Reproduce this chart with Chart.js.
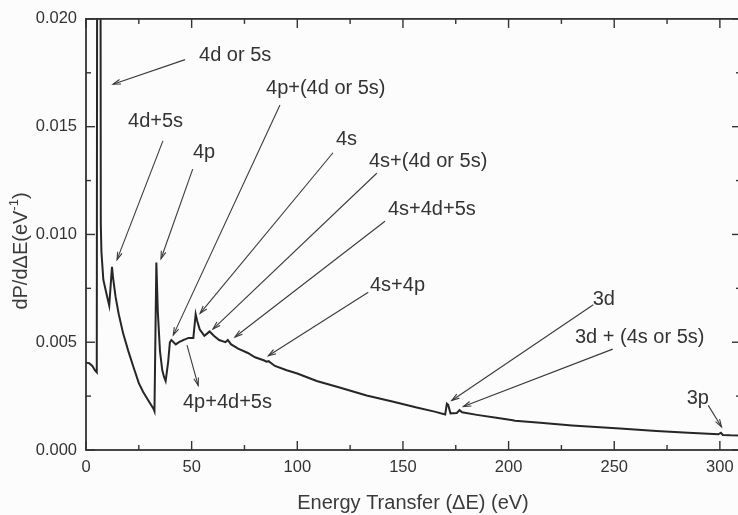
<!DOCTYPE html>
<html>
<head>
<meta charset="utf-8">
<script src="https://cdn.jsdelivr.net/npm/chart.js@4.4.1/dist/chart.umd.min.js"></script>
<style>
html,body{margin:0;padding:0;background:#fcfcfc;overflow:hidden;width:738px;height:515px}
#wrap{position:relative;width:746px;height:515px}
canvas{display:block}
</style>
</head>
<body>
<div id="wrap"><canvas id="c" width="746" height="515"></canvas></div>
<script>
// Energy transfer (eV)
const energy = [0, 1.5, 3, 4.2, 5.1, 5.5, 6.6, 7.0, 7.3, 8.2, 9.8, 11.0, 12.3, 12.8, 14.0, 15.5, 17.6, 20.0, 22.3, 25.0,
  27.0, 29.5, 32.0, 32.4, 33.3, 34.0, 35.0, 36.1, 36.9, 37.7, 38.9, 39.7, 40.4, 42.5, 44.0, 46.0, 48.5, 50.8, 51.9, 52.6,
  53.8, 56.0, 57.3, 58.5, 60.5, 63.0, 66.0, 67.1, 68.7, 72.0, 76.6, 80.0, 84.4, 85.4, 86.4, 89.4, 95.0, 100.0, 109.2, 120.0,
  132.8, 145.0, 156.5, 165.0, 170.0, 170.8, 171.4, 172.5, 175.5, 176.8, 178.0, 185.0, 195.0, 202.0, 203.0, 215.0, 230.0, 252.7, 270.0, 285.0,
  299.3, 300.5, 301.4, 305.0, 310.0];
// dP/dΔE (1/eV)
const dPdE = [0.00405, 0.00403, 0.0039, 0.0037, 0.0036, 0.05, 0.05, 0.0105, 0.0092, 0.0079, 0.0072, 0.0067, 0.0085, 0.0080, 0.0071, 0.0063, 0.0054, 0.0046, 0.0039, 0.0031,
  0.0027, 0.0023, 0.0019, 0.0018, 0.0087, 0.0064, 0.0046, 0.0037, 0.0034, 0.0032, 0.0041, 0.0050, 0.0051, 0.0049, 0.0050, 0.0051, 0.0052, 0.0052, 0.0063, 0.0060,
  0.0056, 0.0053, 0.0054, 0.0055, 0.0053, 0.0051, 0.0050, 0.0051, 0.0049, 0.0047, 0.0045, 0.0043, 0.00415, 0.0041, 0.00412, 0.0039, 0.0037, 0.00355, 0.0032, 0.0029,
  0.00253, 0.00225, 0.00197, 0.00178, 0.00165, 0.00215, 0.0021, 0.0017, 0.00172, 0.00185, 0.00175, 0.00163, 0.00148, 0.00138, 0.00136, 0.00126, 0.00114, 0.0010, 0.00088, 0.0008,
  0.00073, 0.0008, 0.0007, 0.00068, 0.00067];

// Axis ranges and tick steps
const xRange = [0, 310];
const xStep = 25;
const xLabelEvery = 50;
const yRange = [0, 0.020];
const yStep = 0.0025;
const yLabelEvery = 0.005;

// Annotation labels (text, then label anchor and arrow tail/head in data units)
const annTexts = ['4d or 5s', '4d+5s', '4p', '4p+(4d or 5s)', '4s', '4s+(4d or 5s)', '4s+4d+5s', '4s+4p', '4p+4d+5s', '3d', '3d + (4s or 5s)', '3p'];
const annTextX = [53.5, 19.9, 50.6, 85.2, 118.3, 133.9, 142.9, 134.4, 45.9, 239.8, 231.4, 284.3];
const annTextY = [0.01831, 0.01526, 0.01379, 0.01678, 0.0144, 0.01338, 0.01117, 0.00765, 0.00221, 0.00697, 0.00521, 0.00239];
const annTailX = [46.9, 36.4, 50.5, 91.8, 116.9, 137.6, 141.5, 133.6, 47.8, 240.1, 249.3, 294.5];
const annTailY = [0.01811, 0.01434, 0.01303, 0.01601, 0.01379, 0.01284, 0.01061, 0.00732, 0.00487, 0.00674, 0.00468, 0.00207];
const annHeadX = [12.8, 14.7, 35.5, 41.3, 54.0, 60.1, 70.5, 86.3, 53.1, 173.1, 178.6, 300.8];
const annHeadY = [0.01697, 0.00883, 0.00887, 0.00533, 0.00634, 0.00561, 0.00524, 0.00437, 0.00299, 0.0023, 0.00202, 0.00107];

const points = energy.map((e, i) => ({x: e, y: dPdE[i]}));
const FONT = '"Liberation Sans", Arial, Helvetica, sans-serif';
const INK = '#333333';

const decor = {
  id: 'decor',
  afterDraw(chart) {
    const {ctx, chartArea: a, scales: {x, y}} = chart;
    ctx.save();
    // frame
    ctx.strokeStyle = INK;
    ctx.lineWidth = 1.8;
    ctx.strokeRect(a.left, a.top, a.right - a.left, a.bottom - a.top);
    // inward ticks on all four sides
    ctx.lineWidth = 1.4;
    const seg = (x1, y1, x2, y2) => { ctx.beginPath(); ctx.moveTo(x1, y1); ctx.lineTo(x2, y2); ctx.stroke(); };
    x.ticks.forEach(t => {
      const px = x.getPixelForValue(t.value);
      const major = Math.round(t.value / xStep) % Math.round(xLabelEvery / xStep) === 0;
      const L = major ? 9 : 5;
      seg(px, a.bottom, px, a.bottom - L);
      seg(px, a.top, px, a.top + L);
    });
    y.ticks.forEach(t => {
      const py = y.getPixelForValue(t.value);
      const major = Math.round(t.value / yStep) % Math.round(yLabelEvery / yStep) === 0;
      const L = major ? 9 : 5;
      seg(a.left, py, a.left + L, py);
      seg(a.right, py, a.right - L, py);
    });
    // annotations
    ctx.fillStyle = INK;
    ctx.font = '20px ' + FONT;
    ctx.textAlign = 'left';
    ctx.textBaseline = 'middle';
    ctx.lineWidth = 1.1;
    ctx.strokeStyle = '#3a3a3a';
    annTexts.forEach((txt, i) => {
      ctx.fillText(txt, x.getPixelForValue(annTextX[i]), y.getPixelForValue(annTextY[i]));
      const tx = x.getPixelForValue(annTailX[i]), ty = y.getPixelForValue(annTailY[i]);
      const hx = x.getPixelForValue(annHeadX[i]), hy = y.getPixelForValue(annHeadY[i]);
      seg(tx, ty, hx, hy);
      const ang = Math.atan2(hy - ty, hx - tx);
      const hl = 8, spread = 0.3;
      ctx.beginPath();
      ctx.moveTo(hx - hl * Math.cos(ang - spread), hy - hl * Math.sin(ang - spread));
      ctx.lineTo(hx, hy);
      ctx.lineTo(hx - hl * Math.cos(ang + spread), hy - hl * Math.sin(ang + spread));
      ctx.stroke();
    });
    // x axis title
    ctx.fillStyle = '#3a3a3a';
    ctx.font = '20px ' + FONT;
    ctx.textAlign = 'center';
    ctx.fillText('Energy Transfer (\u0394E) (eV)', 413, 503);
    // y axis title (rotated, with superscript)
    ctx.translate(21, 251);
    ctx.rotate(-Math.PI / 2);
    const main = 'dP/d\u0394E(eV', sup = '-1', close = ')';
    ctx.font = '20px ' + FONT;
    const wMain = ctx.measureText(main).width, wClose = ctx.measureText(close).width;
    ctx.font = '13px ' + FONT;
    const wSup = ctx.measureText(sup).width;
    let sx = -(wMain + wSup + wClose) / 2;
    ctx.textAlign = 'left';
    ctx.font = '20px ' + FONT;
    ctx.fillText(main, sx, 0);
    sx += wMain;
    ctx.font = '13px ' + FONT;
    ctx.fillText(sup, sx, -7);
    sx += wSup;
    ctx.font = '20px ' + FONT;
    ctx.fillText(close, sx, 0);
    ctx.restore();
  }
};

new Chart(document.getElementById('c'), {
  type: 'line',
  data: {
    datasets: [{
      data: points,
      borderColor: '#262626',
      borderWidth: 2,
      pointRadius: 0,
      tension: 0,
      fill: false
    }]
  },
  options: {
    responsive: false,
    devicePixelRatio: 1,
    animation: false,
    layout: {padding: {top: 15, right: 5, left: 0, bottom: 0}},
    plugins: {legend: {display: false}, tooltip: {enabled: false}},
    scales: {
      x: {
        type: 'linear',
        min: xRange[0], max: xRange[1],
        grid: {display: false, drawTicks: false},
        border: {display: false},
        afterFit: s => { s.height = 65; },
        ticks: {
          stepSize: xStep, includeBounds: false, autoSkip: false, maxRotation: 0, padding: 8,
          color: INK, font: {family: FONT, size: 16.5},
          callback: v => (Math.round(v) % xLabelEvery === 0 ? String(Math.round(v)) : '')
        }
      },
      y: {
        type: 'linear',
        min: yRange[0], max: yRange[1],
        grid: {display: false, drawTicks: false},
        border: {display: false},
        afterFit: s => { s.width = 86; },
        ticks: {
          stepSize: yStep, includeBounds: false, autoSkip: false, padding: 9,
          color: INK, font: {family: FONT, size: 16.5},
          callback: v => (Math.round(v / yStep) % 2 === 0 ? v.toFixed(3) : '')
        }
      }
    }
  },
  plugins: [decor]
});
</script>
</body>
</html>
